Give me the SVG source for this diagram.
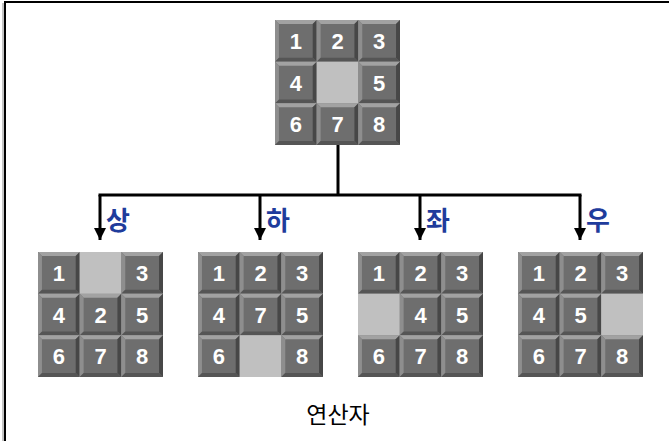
<svg xmlns="http://www.w3.org/2000/svg" xmlns:xlink="http://www.w3.org/1999/xlink" width="669" height="441" viewBox="0 0 669 441">
<style>
.num{font-family:"Liberation Sans",Arial,sans-serif;font-weight:bold;font-size:22px;fill:#ffffff;text-anchor:middle}
.op{font-family:"Noto Sans CJK KR","Noto Sans",sans-serif;font-weight:bold;font-size:26px;fill:#1f3c9c}
.cap{font-family:"Noto Sans CJK KR","Noto Sans",sans-serif;font-size:23px;fill:#000;text-anchor:middle}
.conn{stroke:#000;stroke-width:3;fill:none}
.blank{fill:#c0c0c0}
</style>
<defs>
<symbol id="tile" viewBox="0 0 42 42" width="42" height="42" overflow="visible">
<rect x="0" y="0" width="42" height="42" fill="#6e6e6e"/>
<polygon points="0,0 42,0 38,4 4,4" fill="#a2a2a2"/>
<polygon points="0,0 4,4 4,38 0,42" fill="#8e8e8e"/>
<polygon points="42,0 42,42 38,38 38,4" fill="#474747"/>
<polygon points="0,42 42,42 38,38 4,38" fill="#555555"/>
</symbol>
<marker id="arr" markerWidth="12" markerHeight="12" refX="10" refY="5" orient="auto" markerUnits="userSpaceOnUse" viewBox="0 0 10 10">
<path d="M0,0 L10,5 L0,10 Z" fill="#000"/>
</marker>
</defs>
<rect width="669" height="441" fill="#fff"/>
<g id="frame">
<line x1="3" y1="3" x2="3" y2="441" stroke="#b0b0b0" stroke-width="1.5"/>
<line x1="5" y1="2" x2="669" y2="2" stroke="#000" stroke-width="2"/>
<line x1="5" y1="1" x2="5" y2="441" stroke="#000" stroke-width="2"/>
</g>
<g id="connectors">
<path class="conn" d="M338,145 V195"/>
<path class="conn" d="M98.5,195 H581.5"/>
<path class="conn" d="M100,195 V240" marker-end="url(#arr)"/>
<path class="conn" d="M260,195 V240" marker-end="url(#arr)"/>
<path class="conn" d="M420,195 V240" marker-end="url(#arr)"/>
<path class="conn" d="M580,195 V240" marker-end="url(#arr)"/>
</g>
<g id="start">
<use xlink:href="#tile" x="275" y="20" width="41.7" height="41.7"/><text class="num" x="295.8" y="48.8">1</text>
<use xlink:href="#tile" x="316.7" y="20" width="41.7" height="41.7"/><text class="num" x="337.5" y="48.8">2</text>
<use xlink:href="#tile" x="358.3" y="20" width="41.7" height="41.7"/><text class="num" x="379.2" y="48.8">3</text>
<use xlink:href="#tile" x="275" y="61.7" width="41.7" height="41.7"/><text class="num" x="295.8" y="90.5">4</text>
<rect class="blank" x="316.7" y="61.7" width="41.7" height="41.7"/>
<use xlink:href="#tile" x="358.3" y="61.7" width="41.7" height="41.7"/><text class="num" x="379.2" y="90.5">5</text>
<use xlink:href="#tile" x="275" y="103.3" width="41.7" height="41.7"/><text class="num" x="295.8" y="132.1">6</text>
<use xlink:href="#tile" x="316.7" y="103.3" width="41.7" height="41.7"/><text class="num" x="337.5" y="132.1">7</text>
<use xlink:href="#tile" x="358.3" y="103.3" width="41.7" height="41.7"/><text class="num" x="379.2" y="132.1">8</text>
</g>
<g id="up">
<text class="op" x="106" y="230">상</text>
<use xlink:href="#tile" x="38" y="252" width="41.7" height="41.7"/><text class="num" x="58.8" y="280.8">1</text>
<rect class="blank" x="79.7" y="252" width="41.7" height="41.7"/>
<use xlink:href="#tile" x="121.3" y="252" width="41.7" height="41.7"/><text class="num" x="142.2" y="280.8">3</text>
<use xlink:href="#tile" x="38" y="293.7" width="41.7" height="41.7"/><text class="num" x="58.8" y="322.5">4</text>
<use xlink:href="#tile" x="79.7" y="293.7" width="41.7" height="41.7"/><text class="num" x="100.5" y="322.5">2</text>
<use xlink:href="#tile" x="121.3" y="293.7" width="41.7" height="41.7"/><text class="num" x="142.2" y="322.5">5</text>
<use xlink:href="#tile" x="38" y="335.3" width="41.7" height="41.7"/><text class="num" x="58.8" y="364.1">6</text>
<use xlink:href="#tile" x="79.7" y="335.3" width="41.7" height="41.7"/><text class="num" x="100.5" y="364.1">7</text>
<use xlink:href="#tile" x="121.3" y="335.3" width="41.7" height="41.7"/><text class="num" x="142.2" y="364.1">8</text>
</g>
<g id="down">
<text class="op" x="266" y="230">하</text>
<use xlink:href="#tile" x="198" y="252" width="41.7" height="41.7"/><text class="num" x="218.8" y="280.8">1</text>
<use xlink:href="#tile" x="239.7" y="252" width="41.7" height="41.7"/><text class="num" x="260.5" y="280.8">2</text>
<use xlink:href="#tile" x="281.3" y="252" width="41.7" height="41.7"/><text class="num" x="302.2" y="280.8">3</text>
<use xlink:href="#tile" x="198" y="293.7" width="41.7" height="41.7"/><text class="num" x="218.8" y="322.5">4</text>
<use xlink:href="#tile" x="239.7" y="293.7" width="41.7" height="41.7"/><text class="num" x="260.5" y="322.5">7</text>
<use xlink:href="#tile" x="281.3" y="293.7" width="41.7" height="41.7"/><text class="num" x="302.2" y="322.5">5</text>
<use xlink:href="#tile" x="198" y="335.3" width="41.7" height="41.7"/><text class="num" x="218.8" y="364.1">6</text>
<rect class="blank" x="239.7" y="335.3" width="41.7" height="41.7"/>
<use xlink:href="#tile" x="281.3" y="335.3" width="41.7" height="41.7"/><text class="num" x="302.2" y="364.1">8</text>
</g>
<g id="left">
<text class="op" x="426" y="230">좌</text>
<use xlink:href="#tile" x="358" y="252" width="41.7" height="41.7"/><text class="num" x="378.8" y="280.8">1</text>
<use xlink:href="#tile" x="399.7" y="252" width="41.7" height="41.7"/><text class="num" x="420.5" y="280.8">2</text>
<use xlink:href="#tile" x="441.3" y="252" width="41.7" height="41.7"/><text class="num" x="462.2" y="280.8">3</text>
<rect class="blank" x="358" y="293.7" width="41.7" height="41.7"/>
<use xlink:href="#tile" x="399.7" y="293.7" width="41.7" height="41.7"/><text class="num" x="420.5" y="322.5">4</text>
<use xlink:href="#tile" x="441.3" y="293.7" width="41.7" height="41.7"/><text class="num" x="462.2" y="322.5">5</text>
<use xlink:href="#tile" x="358" y="335.3" width="41.7" height="41.7"/><text class="num" x="378.8" y="364.1">6</text>
<use xlink:href="#tile" x="399.7" y="335.3" width="41.7" height="41.7"/><text class="num" x="420.5" y="364.1">7</text>
<use xlink:href="#tile" x="441.3" y="335.3" width="41.7" height="41.7"/><text class="num" x="462.2" y="364.1">8</text>
</g>
<g id="right">
<text class="op" x="586" y="230">우</text>
<use xlink:href="#tile" x="518" y="252" width="41.7" height="41.7"/><text class="num" x="538.8" y="280.8">1</text>
<use xlink:href="#tile" x="559.7" y="252" width="41.7" height="41.7"/><text class="num" x="580.5" y="280.8">2</text>
<use xlink:href="#tile" x="601.3" y="252" width="41.7" height="41.7"/><text class="num" x="622.2" y="280.8">3</text>
<use xlink:href="#tile" x="518" y="293.7" width="41.7" height="41.7"/><text class="num" x="538.8" y="322.5">4</text>
<use xlink:href="#tile" x="559.7" y="293.7" width="41.7" height="41.7"/><text class="num" x="580.5" y="322.5">5</text>
<rect class="blank" x="601.3" y="293.7" width="41.7" height="41.7"/>
<use xlink:href="#tile" x="518" y="335.3" width="41.7" height="41.7"/><text class="num" x="538.8" y="364.1">6</text>
<use xlink:href="#tile" x="559.7" y="335.3" width="41.7" height="41.7"/><text class="num" x="580.5" y="364.1">7</text>
<use xlink:href="#tile" x="601.3" y="335.3" width="41.7" height="41.7"/><text class="num" x="622.2" y="364.1">8</text>
</g>
<text class="cap" x="338" y="423">연산자</text>
</svg>
